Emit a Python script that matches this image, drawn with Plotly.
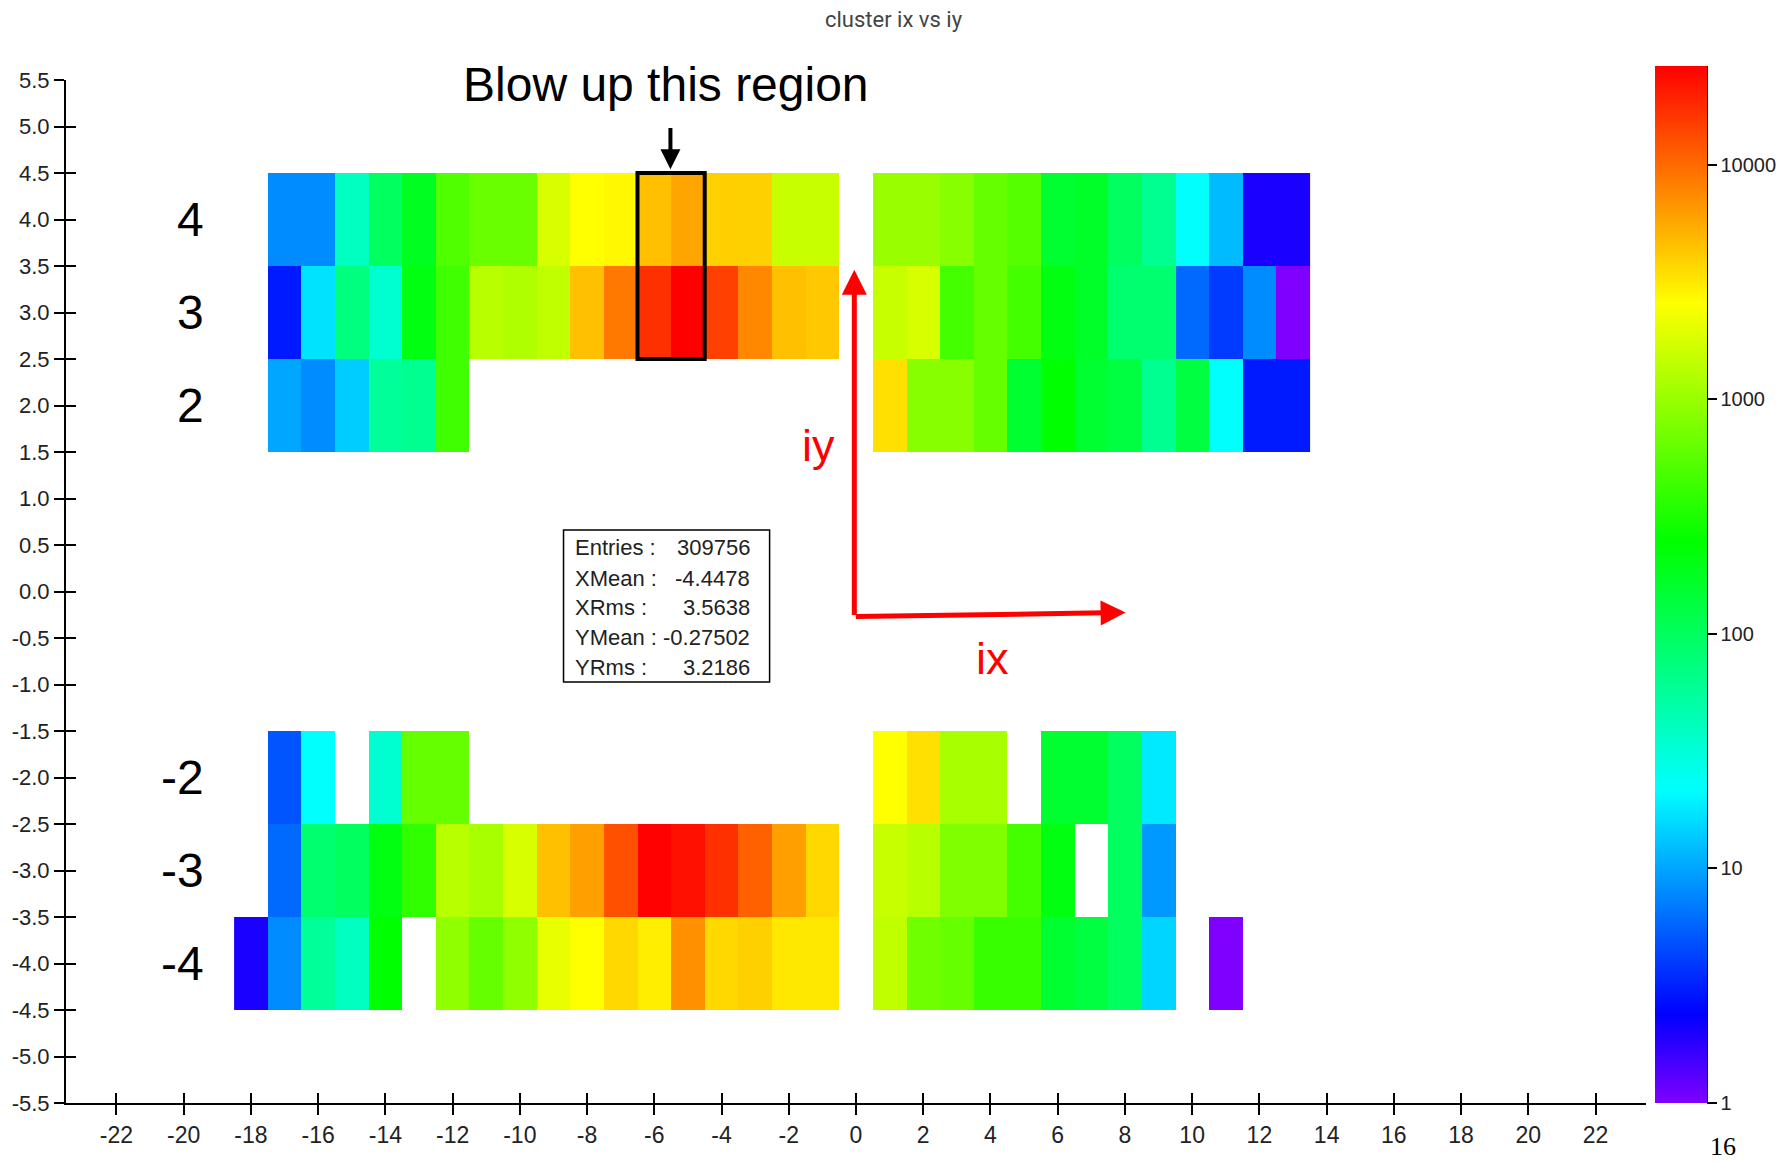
import numpy as np
import plotly.graph_objects as go

# ---------------- data ----------------
IX = list(range(-18, 14))          # cluster ix bin centres
IY = [-4, -3, -2, -1, 0, 1, 2, 3, 4]  # cluster iy bin centres
N = None

# counts per (ix) for each iy row; None = empty bin
row_p4 = [N, 8, 8, 39, 99, 182, 513, 652, 652, 1790, 2560, 2720, 4550, 5820, 3930, 3930, 1545, 1545,
          N, 1000, 1000, 858, 628, 537, 156, 168, 99, 62, 22, 12, 2, 2]
row_p3 = [N, 3, 17, 73, 34, 211, 443, 1333, 1240, 1435, 4550, 8790, 17000, 26300, 14660, 7590, 4550, 4240,
          N, 1545, 1790, 459, 628, 459, 211, 168, 85, 85, 6, 4, 8, 1]
row_p2 = [N, 10, 8, 14, 58, 62, 443, N, N, N, N, N, N, N, N, N, N, N,
          N, 3400, 858, 858, 628, 156, 246, 156, 134, 62, 134, 22, 3, 3]
row_m2 = [N, 5, 22, N, 34, 628, 628, N, N, N, N, N, N, N, N, N, N, N,
          N, 2560, 3400, 1150, 1150, N, 156, 156, 99, 18, N, N, N, N]
row_m3 = [N, 6, 85, 99, 211, 382, 1333, 1150, 1790, 4550, 6100, 12650, 26000, 22700, 17000, 10940, 6100, 3650,
          N, 1545, 1333, 798, 798, 459, 211, N, 99, 9, N, N, N, N]
row_m4 = [2, 8, 58, 39, 246, N, 925, 628, 925, 2070, 2560, 3650, 2990, 7050, 3650, 3930, 3160, 3160,
          N, 1435, 689, 628, 412, 412, 156, 134, 99, 15, N, 1, N, N]

ROWS = {4: row_p4, 3: row_p3, 2: row_p2, -2: row_m2, -3: row_m3, -4: row_m4}

Z_MAX_LOG = 4.42
CB_TICKVALS = [0, 1, 2, 3, 4]
CB_TICKTEXT = ["1", "10", "100", "1000", "10000"]

X_TICKS = list(range(-22, 23, 2))
Y_TICKS = [round(-5.5 + 0.5 * k, 1) for k in range(23)]

STAT_LABELS = ["Entries :", "XMean :", "XRms :", "YMean :", "YRms :"]
STAT_VALUES = ["309756", "-4.4478", "3.5638", "-0.27502", "3.2186"]

ROW_LABELS = ["4", "3", "2", "-2", "-3", "-4"]
ROW_LABEL_Y = [4, 3, 2, -2, -3, -4]

# ---------------- build ----------------
empty = [None] * len(IX)
counts = [ROWS.get(iy, empty) for iy in IY]
z = [[None if c is None else float(np.log10(c)) for c in r] for r in counts]

colorscale = [
    [0.0, "#7f00ff"],
    [0.086, "#0000ff"],
    [0.302, "#00ffff"],
    [0.541, "#00ff00"],
    [0.771, "#ffff00"],
    [1.0, "#ff0000"],
]

SANS = "Liberation Sans, Arial, sans-serif"
TXT = "#222222"

fig = go.Figure()
fig.add_trace(go.Heatmap(
    x=IX, y=IY, z=z, customdata=counts,
    zmin=0, zmax=Z_MAX_LOG, colorscale=colorscale,
    hovertemplate="ix=%{x}<br>iy=%{y}<br>count=%{customdata}<extra></extra>",
    colorbar=dict(
        x=1.0057, xanchor="left", xpad=0,
        y=0, yanchor="bottom", ypad=0,
        lenmode="pixels", len=1037,
        thicknessmode="pixels", thickness=52,
        outlinewidth=0,
        tickvals=CB_TICKVALS, ticktext=CB_TICKTEXT,
        ticks="outside", ticklen=10, tickwidth=1.5, tickcolor="black",
        tickfont=dict(family=SANS, size=20, color=TXT),
    ),
))
# empty trace so the overlay axes (for crossing tick marks) are drawn
fig.add_trace(go.Scatter(x=[], y=[], xaxis="x2", yaxis="y2", showlegend=False, hoverinfo="skip"))

common_x = dict(range=[-23.5, 23.5], autorange=False, tickvals=X_TICKS, automargin=False,
                showgrid=False, zeroline=False, ticklen=10, tickwidth=2, tickcolor="black")
common_y = dict(range=[-5.5, 5.5], autorange=False, tickvals=Y_TICKS, automargin=False,
                showgrid=False, zeroline=False, ticklen=10, tickwidth=2, tickcolor="black")

# the page body has an 8px default margin, so the figure is sized/offset to compensate
fig.update_layout(
    width=1783, height=1157,
    margin=dict(l=58, r=145, t=72, b=62, autoexpand=False),
    paper_bgcolor="white", plot_bgcolor="white",
    showlegend=False,
    xaxis=dict(**common_x, ticks="outside", showline=True, linecolor="black", linewidth=2,
               ticktext=[str(v) for v in X_TICKS],
               tickfont=dict(family=SANS, size=23, color=TXT)),
    yaxis=dict(**common_y, ticks="outside", showline=True, linecolor="black", linewidth=2,
               ticktext=[f"{v:.1f}" for v in Y_TICKS],
               tickfont=dict(family=SANS, size=22, color=TXT)),
    xaxis2=dict(**common_x, overlaying="x", anchor="y2", side="bottom", ticks="inside",
                showticklabels=False, showline=False),
    yaxis2=dict(**common_y, overlaying="y", anchor="x2", side="left", ticks="inside",
                showticklabels=False, showline=False),
)

ann = []
# title
ann.append(dict(text="cluster ix vs iy", xref="paper", yref="paper", x=0.524, y=1.0596,
                xanchor="center", yanchor="middle",
                showarrow=False, font=dict(family="Roboto, sans-serif", size=22, color="#444444")))
# blow-up text
ann.append(dict(text="Blow up this region", xref="x", yref="y", x=-5.64, y=5.45,
                showarrow=False, font=dict(family=SANS, size=48, color="black")))
# row labels
for lab, yy in zip(ROW_LABELS, ROW_LABEL_Y):
    ann.append(dict(text=lab, xref="x", yref="y", x=-19.34, y=yy, xanchor="right",
                    showarrow=False, font=dict(family=SANS, size=48, color="black")))
# red axis labels
ann.append(dict(text="iy", xref="x", yref="y", x=-1.12, y=1.57, showarrow=False,
                font=dict(family=SANS, size=45, color="#ff0000")))
ann.append(dict(text="ix", xref="x", yref="y", x=4.05, y=-0.72, showarrow=False,
                font=dict(family=SANS, size=45, color="#ff0000")))
# red arrows
ann.append(dict(text="", xref="x", yref="y", axref="x", ayref="y", x=-0.05, y=3.46, ax=-0.05, ay=-0.27,
                showarrow=True, arrowhead=2, arrowsize=1, arrowwidth=5, arrowcolor="#ff0000"))
ann.append(dict(text="", xref="x", yref="y", axref="x", ayref="y", x=8.02, y=-0.226, ax=-0.05, ay=-0.27,
                showarrow=True, arrowhead=2, arrowsize=1, arrowwidth=5, arrowcolor="#ff0000"))
# black arrow
ann.append(dict(text="", xref="x", yref="y", axref="x", ayref="y", x=-5.52, y=4.54, ax=-5.52, ay=5.0,
                showarrow=True, arrowhead=2, arrowsize=1, arrowwidth=4, arrowcolor="black"))
# stats box text
stat_y = [0.468, 0.145, -0.175, -0.495, -0.817]
for lab, val, yy in zip(STAT_LABELS, STAT_VALUES, stat_y):
    ann.append(dict(text=lab, xref="x", yref="y", x=-8.42, y=yy, xanchor="left", showarrow=False,
                    font=dict(family=SANS, size=22, color=TXT)))
    ann.append(dict(text=val, xref="x", yref="y", x=-3.09, y=yy, xanchor="right", showarrow=False,
                    font=dict(family=SANS, size=22, color=TXT)))
# page number
ann.append(dict(text="16", xref="paper", yref="paper", x=1.049, y=-0.0425,
                xanchor="center", yanchor="middle", showarrow=False,
                font=dict(family="Liberation Serif, Times New Roman, serif", size=26, color="black")))
fig.update_layout(annotations=ann)

shapes = [
    dict(type="rect", xref="x", yref="y", x0=-6.5, x1=-4.5, y0=2.5, y1=4.5,
         line=dict(color="black", width=4)),
    dict(type="rect", xref="x", yref="y", x0=-8.70, x1=-2.57, y0=-0.973, y1=0.661,
         line=dict(color="black", width=1.5), fillcolor="white", layer="above"),
    dict(type="line", xref="paper", yref="paper", x0=1.0386, x1=1.0386, y0=0, y1=1.0137,
         line=dict(color="black", width=2)),
]
fig.update_layout(shapes=shapes)

fig.write_html("out.html")
